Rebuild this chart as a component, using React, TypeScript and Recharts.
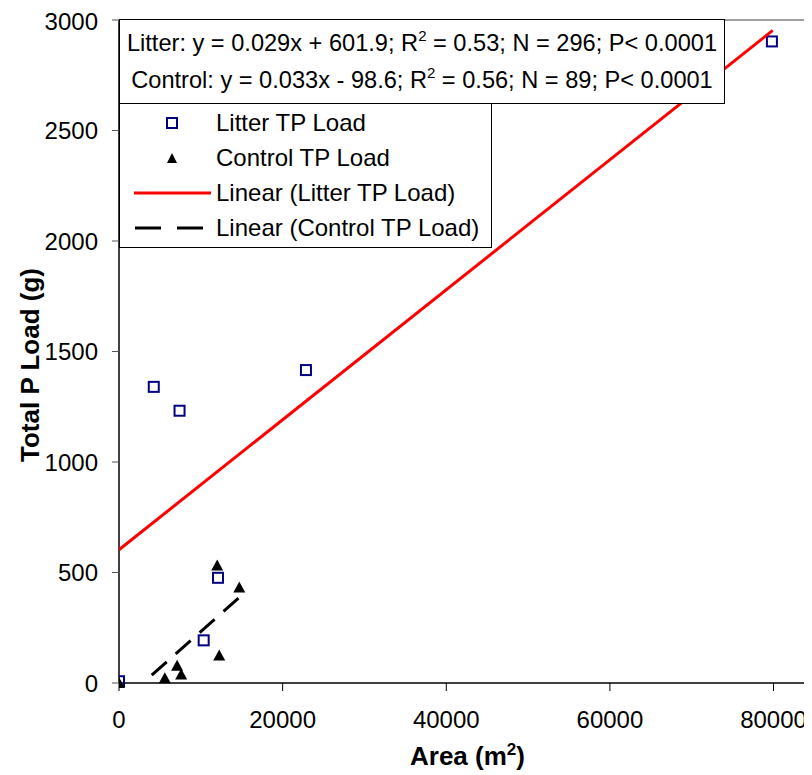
import { ScatterChart, Scatter, XAxis, YAxis, ReferenceLine } from 'recharts';

const litterLoad = [
  { x: 0, y: 8 },
  { x: 4250, y: 1340 },
  { x: 7400, y: 1232 },
  { x: 10350, y: 193 },
  { x: 12100, y: 476 },
  { x: 22850, y: 1416 },
  { x: 79800, y: 2903 },
];

const controlLoad = [
  { x: 0, y: 0 },
  { x: 5600, y: 22 },
  { x: 7100, y: 78 },
  { x: 7600, y: 38 },
  { x: 12000, y: 532 },
  { x: 12250, y: 125 },
  { x: 14700, y: 432 },
];

// fitted trend lines, end points
const litterTrend = [
  { x: 0, y: 603 },
  { x: 79900, y: 2953 },
];
const controlTrend = [
  { x: 4000, y: 36 },
  { x: 14600, y: 384 },
];

const xTicks = [0, 20000, 40000, 60000, 80000];
const yTicks = [0, 500, 1000, 1500, 2000, 2500, 3000];

const FONT = '"Liberation Sans", Arial, sans-serif';

const Square = ({ cx, cy }: any) => (
  <rect x={cx - 5} y={cy - 5} width={10} height={10} fill="none" stroke="#000080" strokeWidth={2} />
);

const Triangle = ({ cx, cy }: any) => (
  <path d={`M${cx},${cy - 6} L${cx + 6},${cy + 5} L${cx - 6},${cy + 5} Z`} fill="#000" />
);

const NoDot = () => null;

const legendRows = [
  { name: 'Litter TP Load', kind: 'square' },
  { name: 'Control TP Load', kind: 'triangle' },
  { name: 'Linear (Litter TP Load)', kind: 'solid' },
  { name: 'Linear (Control TP Load)', kind: 'dashed' },
];

const sup: any = { fontSize: 15, verticalAlign: 'baseline', position: 'relative', top: -10, lineHeight: 0 };

const LegendBox = () => (
  <div style={{ position: 'absolute', top: 11, left: 111, fontFamily: FONT, fontSize: 24, color: '#000' }}>
    <div
      style={{
        width: 606,
        height: 85,
        border: '1px solid #000',
        background: '#fff',
        textAlign: 'center',
        lineHeight: '37px',
        paddingTop: 5,
        boxSizing: 'border-box',
        whiteSpace: 'nowrap',
        fontSize: 23.6,
      }}
    >
      <div>
        Litter: y = 0.029x + 601.9; R<sup style={sup}>2</sup> = 0.53; N = 296; P&lt; 0.0001
      </div>
      <div>
        Control: y = 0.033x - 98.6; R<sup style={sup}>2</sup> = 0.56; N = 89; P&lt; 0.0001
      </div>
    </div>
    <div
      style={{
        width: 373,
        height: 144,
        border: '1px solid #000',
        borderTop: 'none',
        background: '#fff',
        boxSizing: 'border-box',
        paddingTop: 1,
      }}
    >
      {legendRows.map((r) => (
        <div key={r.name} style={{ display: 'flex', alignItems: 'center', height: 35 }}>
          <svg width={96} height={20} style={{ flex: 'none' }}>
            {r.kind === 'square' && <rect x={47} y={5} width={10} height={10} fill="none" stroke="#000080" strokeWidth={2} />}
            {r.kind === 'triangle' && <path d="M52,5 L57,15 L47,15 Z" fill="#000" />}
            {r.kind === 'solid' && <line x1={14} y1={10} x2={91} y2={10} stroke="#ff0000" strokeWidth={3} />}
            {r.kind === 'dashed' && (
              <line x1={15} y1={10} x2={91} y2={10} stroke="#000" strokeWidth={3} strokeDasharray="26 16" />
            )}
          </svg>
          <span style={{ whiteSpace: 'nowrap' }}>{r.name}</span>
        </div>
      ))}
    </div>
  </div>
);

const XTitle = ({ viewBox }: any) => (
  <text
    x={viewBox.x + viewBox.width / 2 + 2}
    y={757}
    textAnchor="middle"
    fontFamily={FONT}
    fontSize={26}
    fontWeight="bold"
    fill="#000"
  >
    Area (m<tspan dy={-10} fontSize={17}>2</tspan>
    <tspan dy={10}>)</tspan>
  </text>
);

const YTitle = () => (
  <text
    x={0}
    y={0}
    transform="translate(31,357) rotate(-90)"
    textAnchor="middle"
    fontFamily={FONT}
    fontSize={26}
    fontWeight="bold"
    fill="#000"
  >
    Total P Load (g)
  </text>
);

const App = () => {
  return (
    <div style={{ position: 'relative', width: 804, height: 767 }}>
      <ScatterChart width={804} height={767} margin={{ top: 12, right: 0, bottom: 0, left: 0 }}>
        <XAxis
          type="number"
          dataKey="x"
          domain={[0, 84700]}
          ticks={xTicks}
          allowDataOverflow
          height={92}
          tickSize={8}
          tickMargin={20}
          axisLine={{ stroke: '#000', strokeWidth: 1.5 }}
          tickLine={{ stroke: '#000' }}
          tick={{ fill: '#000', fontSize: 24, fontFamily: FONT }}
          label={<XTitle />}
        />
        <YAxis
          type="number"
          dataKey="y"
          domain={[0, 3000]}
          ticks={yTicks}
          width={111}
          tickSize={7}
          tickMargin={14}
          axisLine={{ stroke: '#000', strokeWidth: 1.5 }}
          tickLine={{ stroke: '#555' }}
          tick={{ fill: '#000', fontSize: 24, fontFamily: FONT }}
          label={<YTitle />}
        />
        <ReferenceLine y={3000} stroke="#808080" strokeWidth={1.5} />
        <Scatter name="Litter TP Load" data={litterLoad} shape={<Square />} isAnimationActive={false} />
        <Scatter name="Control TP Load" data={controlLoad} shape={<Triangle />} isAnimationActive={false} />
        <Scatter
          name="Linear (Litter TP Load)"
          data={litterTrend}
          line={{ stroke: '#ff0000', strokeWidth: 3 }}
          shape={<NoDot />}
          isAnimationActive={false}
        />
        <Scatter
          name="Linear (Control TP Load)"
          data={controlTrend}
          line={{ stroke: '#000', strokeWidth: 3, strokeDasharray: '20 12' }}
          shape={<NoDot />}
          isAnimationActive={false}
        />
      </ScatterChart>
      <LegendBox />
    </div>
  );
};

export default App;
